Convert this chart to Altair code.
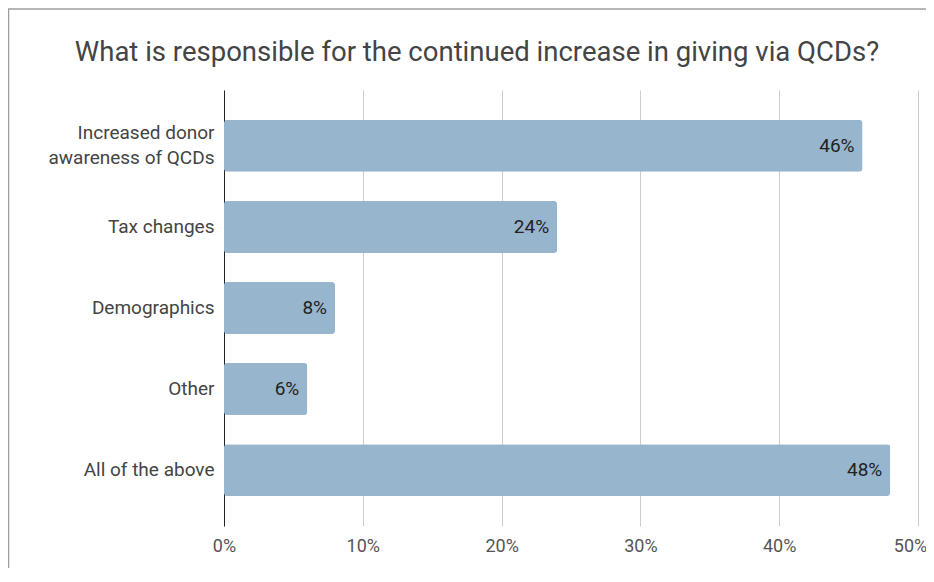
import altair as alt
import pandas as pd

categories = ["Increased donor awareness of QCDs", "Tax changes", "Demographics", "Other", "All of the above"]
values = [0.46, 0.24, 0.08, 0.06, 0.48]
labels = ["46%", "24%", "8%", "6%", "48%"]
x_ticks = [0, 0.1, 0.2, 0.3, 0.4, 0.5]

df = pd.DataFrame({"cat": categories, "val": values, "lab": labels})

FONT = "Roboto"
LONG = "Increased donor awareness of QCDs"

x_enc = alt.X(
    "val:Q",
    scale=alt.Scale(domain=[0, 0.5], nice=False),
    axis=alt.Axis(
        format="%", values=x_ticks, title=None,
        grid=True, gridColor="#cccccc", ticks=False, domain=False,
        labelFontSize=18, labelColor="#555555", labelFont=FONT, labelPadding=11,
        labelFlush=False,
        labelOffset={"condition": {"test": "datum.value >= 0.5", "value": -8}, "value": 0},
    ),
)
y_enc = alt.Y(
    "cat:N", sort=None,
    scale=alt.Scale(paddingInner=0.36, paddingOuter=0.37),
    axis=alt.Axis(
        title=None, ticks=False, domain=True, domainColor="#222222", domainWidth=1,
        labelFontSize=19, labelColor="#444444", labelFont=FONT, labelPadding=10,
        labelLineHeight=25,
        labelOffset={"condition": {"test": f"datum.value == '{LONG}'", "value": -12.5}, "value": 0},
        labelExpr=f"datum.label == '{LONG}' ? ['Increased donor', 'awareness of QCDs'] : datum.label",
    ),
)

bars = alt.Chart(df).mark_bar(color="#98b5ce", cornerRadius=3).encode(x=x_enc, y=y_enc)
text = alt.Chart(df).mark_text(align="right", dx=-8, fontSize=19, font=FONT, color="#222222").encode(
    x="val:Q", y=alt.Y("cat:N", sort=None), text="lab:N"
)

frame = pd.DataFrame({"a": [0]})
left_border = alt.Chart(frame).mark_rule(color="#9e9e9e", strokeWidth=1.5).encode(
    x=alt.value(-215.5), y=alt.value(-81), y2=alt.value(600)
)
top_border = alt.Chart(frame).mark_rule(color="#9e9e9e", strokeWidth=1.5).encode(
    x=alt.value(-216), x2=alt.value(900), y=alt.value(-81)
)

chart = alt.layer(bars, text, left_border, top_border).properties(
    width=694, height=436,
    title=alt.TitleParams(
        "What is responsible for the continued increase in giving via QCDs?",
        font=FONT, fontSize=27.5, fontWeight="normal", color="#444444",
        anchor="middle", dx=-94, offset=-58.5,
    ),
    autosize=alt.AutoSizeParams(type="none"),
    padding={"left": 216, "top": 82, "right": 8, "bottom": 42},
).configure(background="white").configure_view(stroke=None)

chart.save("out.html", embed_options={"renderer": "svg", "actions": False})
